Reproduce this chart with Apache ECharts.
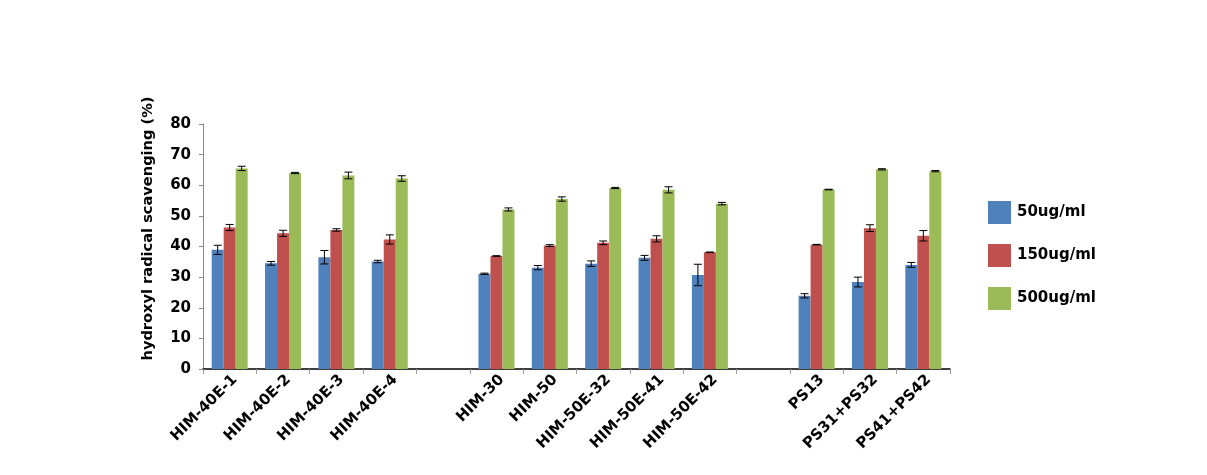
<!DOCTYPE html>
<html>
<head>
<meta charset="utf-8">
<script src="https://cdn.jsdelivr.net/npm/echarts@6/dist/echarts.min.js"></script>
<style>html,body{margin:0;padding:0;background:#fff}#c{width:1207px;height:475px}</style>
</head>
<body>
<div id="c"></div>
<script>
var categories = ['HIM-40E-1','HIM-40E-2','HIM-40E-3','HIM-40E-4',' ','HIM-30','HIM-50','HIM-50E-32','HIM-50E-41','HIM-50E-42','  ','PS13','PS31+PS32','PS41+PS42'];
var seriesNames = ['50ug/ml','150ug/ml','500ug/ml'];
var v50  = [38.9, 34.5, 36.5, 35.1, null, 31.1, 33.1, 34.4, 36.3, 30.7, null, 23.9, 28.4, 34.0];
var v150 = [46.2, 44.3, 45.4, 42.3, null, 36.9, 40.3, 41.2, 42.5, 38.1, null, 40.6, 46.0, 43.5];
var v500 = [65.5, 64.0, 63.2, 62.2, null, 52.1, 55.5, 59.1, 58.5, 54.0, null, 58.6, 65.2, 64.6];
var e50  = [1.5, 0.6, 2.2, 0.4, null, 0.2, 0.7, 0.9, 0.8, 3.5, null, 0.7, 1.6, 0.8];
var e150 = [1.0, 1.0, 0.4, 1.5, null, 0.1, 0.3, 0.6, 1.0, 0.1, null, 0.1, 1.1, 1.7];
var e500 = [0.7, 0.2, 1.1, 0.9, null, 0.5, 0.7, 0.2, 1.0, 0.4, null, 0.1, 0.2, 0.2];
var yTicks = [0, 10, 20, 30, 40, 50, 60, 70, 80];

var colors = ['#4F81BD', '#C0504D', '#9BBB59'];
var values = [v50, v150, v500];
var errors = [e50, e150, e500];
var BAR_W = 12;
var FONT = '"DejaVu Sans", Arial, sans-serif';

function errSeries(k) {
  var data = [];
  for (var i = 0; i < categories.length; i++) {
    if (values[k][i] != null) data.push([i, values[k][i], errors[k][i]]);
  }
  return {
    type: 'custom',
    name: seriesNames[k] + ' err',
    silent: true,
    z: 10,
    data: data,
    encode: { x: 0, y: 1 },
    renderItem: function (params, api) {
      var i = api.value(0), v = api.value(1), e = api.value(2);
      var off = (k - 1) * BAR_W;
      var hi = api.coord([i, v + e]);
      var lo = api.coord([i, v - e]);
      var x = hi[0] + off;
      var cap = 4;
      var st = { stroke: '#000', lineWidth: 1 };
      return {
        type: 'group',
        children: [
          { type: 'line', shape: { x1: x, y1: hi[1], x2: x, y2: lo[1] }, style: st },
          { type: 'line', shape: { x1: x - cap, y1: hi[1], x2: x + cap, y2: hi[1] }, style: st },
          { type: 'line', shape: { x1: x - cap, y1: lo[1], x2: x + cap, y2: lo[1] }, style: st }
        ]
      };
    }
  };
}

var series = [];
for (var k = 0; k < 3; k++) {
  series.push({
    type: 'bar',
    name: seriesNames[k],
    data: values[k],
    barWidth: BAR_W,
    barGap: '0%',
    itemStyle: { color: colors[k] }
  });
}
for (var k2 = 0; k2 < 3; k2++) series.push(errSeries(k2));

var chart = echarts.init(document.getElementById('c'));
chart.setOption({
  animation: false,
  backgroundColor: '#fff',
  textStyle: { fontFamily: FONT },
  grid: { left: 203, right: 257, top: 124, bottom: 106, containLabel: false },
  legend: {
    data: seriesNames,
    orient: 'vertical',
    left: 983,
    top: 196,
    itemWidth: 23,
    itemHeight: 23,
    itemGap: 20,
    icon: 'rect',
    textStyle: { fontFamily: FONT, fontSize: 15, fontWeight: 'bold', color: '#000', padding: [0, 0, 0, 1] }
  },
  xAxis: {
    type: 'category',
    data: categories,
    axisLine: { lineStyle: { color: '#000', width: 1.5 } },
    axisTick: { show: true, alignWithLabel: false, length: 5, lineStyle: { color: '#999' } },
    axisLabel: {
      interval: 0,
      rotate: 45,
      fontFamily: FONT,
      fontSize: 15,
      fontWeight: 'bold',
      color: '#000',
      verticalAlign: 'top',
      margin: 3
    }
  },
  yAxis: {
    type: 'value',
    min: yTicks[0],
    max: yTicks[yTicks.length - 1],
    interval: 10,
    name: 'hydroxyl radical scavenging (%)',
    nameLocation: 'middle',
    nameGap: 47,
    nameTextStyle: { fontFamily: FONT, fontSize: 14.6, fontWeight: 'bold', color: '#000', padding: [0, 0, 0, 36] },
    axisLine: { show: true, lineStyle: { color: '#888' } },
    axisTick: { show: true, length: 4, lineStyle: { color: '#888' } },
    splitLine: { show: false },
    axisLabel: { fontFamily: FONT, fontSize: 15, fontWeight: 'bold', color: '#000', margin: 12 }
  },
  series: series
});
</script>
</body>
</html>
